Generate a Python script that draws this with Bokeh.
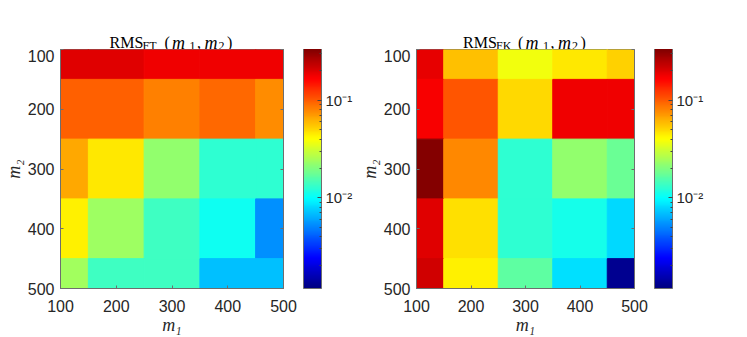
import numpy as np
from bokeh.plotting import figure
from bokeh.models import (Range1d, LinearAxis, FixedTicker, ColorBar, LogColorMapper,
                          Label, CustomJSTickFormatter, ColumnDataSource)
from bokeh.layouts import row, column
from bokeh.embed import file_html
from bokeh.resources import INLINE

# ---------------- data ----------------
m1_values = [100, 200, 300, 400, 500]
m2_values = [100, 200, 300, 400, 500]

# rows: m2 = 100..500 ; columns: m1 = 100..500
rms_ft = [
    [0.198, 0.198, 0.182, 0.182, 0.182],
    [0.098, 0.098, 0.0822, 0.0926, 0.0766],
    [0.0656, 0.046, 0.0218, 0.0128, 0.0128],
    [0.0441, 0.0235, 0.0140, 0.0107, 0.0053],
    [0.0240, 0.0140, 0.0140, 0.0069, 0.0069],
]
rms_fk = [
    [0.19, 0.0577, 0.0372, 0.0455, 0.0526],
    [0.174, 0.1026, 0.0502, 0.182, 0.182],
    [0.33, 0.0785, 0.0128, 0.0218, 0.0178],
    [0.198, 0.0482, 0.0128, 0.0112, 0.0079],
    [0.217, 0.0441, 0.0167, 0.0083, 0.00129],
]
color_low = 10 ** -2.93
color_high = 10 ** -0.47
x_ticks = [100, 200, 300, 400, 500]
y_ticks = [100, 200, 300, 400, 500]
cbar_ticks = [0.01, 0.1]
cbar_minor = [0.002, 0.003, 0.004, 0.005, 0.006, 0.007, 0.008, 0.009,
              0.02, 0.03, 0.04, 0.05, 0.06, 0.07, 0.08, 0.09, 0.2, 0.3]
x_label = "m\u2081"
y_label = "m\u2082"

FRAME_W = 223
FRAME_H = 240
TITLE_H = 49


def jet(n=256):
    out = []
    for i in range(n):
        t = i / (n - 1)
        r = min(max(1.5 - abs(4 * t - 3), 0), 1)
        g = min(max(1.5 - abs(4 * t - 2), 0), 1)
        b = min(max(1.5 - abs(4 * t - 1), 0), 1)
        out.append("#%02x%02x%02x" % (int(round(r * 255)), int(round(g * 255)), int(round(b * 255))))
    return out


JET = jet(256)
SERIF = "Liberation Serif"
SANS = "Liberation Sans"
AX_COL = "#6e6e6e"
TXT_COL = "#262626"

sup_fmt = CustomJSTickFormatter(code="""
const e = Math.round(Math.log10(tick));
const sup = {'-':'\u207b','0':'\u2070','1':'\u00b9','2':'\u00b2','3':'\u00b3'};
return '10' + String(e).split('').map(c => sup[c]).join('');
""")
empty_fmt = CustomJSTickFormatter(code="return '';")


def make_title(sub, width, bl, br, xr):
    t = figure(width=width, height=TITLE_H, output_backend="svg", toolbar_location=None,
               x_range=xr, y_range=Range1d(0, TITLE_H),
               min_border_left=bl, min_border_right=br, min_border_top=0, min_border_bottom=0,
               x_axis_location=None, y_axis_location=None)
    t.grid.visible = False
    t.outline_line_color = None
    t.border_fill_color = "white"
    t.background_fill_color = "white"
    pieces = [("RMS", -62.5, 7, 16, "normal"), (sub, -29.5, 4, 12, "normal"),
              ("(", -7.5, 7, 16, "normal"), ("m", 0.0, 7, 18, "italic"),
              ("1", 17.5, 4, 12, "normal"), (",", 25.0, 7, 16, "normal"),
              ("m", 32.5, 7, 18, "italic"), ("2", 46.5, 4, 12, "normal"),
              (")", 55.0, 7, 16, "normal")]
    for txt, dx, dy, fs, st in pieces:
        t.add_layout(Label(x=300, y=dy, x_offset=dx, text=txt, text_font=SERIF,
                           text_font_size=f"{fs}px", text_font_style=st, text_color="black",
                           text_align="left", text_baseline="alphabetic"))
    return t


def make_panel(values, width, bl, br, xr):
    xs, ys, vs = [], [], []
    for i, m2 in enumerate(m2_values):
        for j, m1 in enumerate(m1_values):
            xs.append(m1)
            ys.append(m2)
            vs.append(values[i][j])
    src = ColumnDataSource(dict(x=xs, y=ys, v=vs))
    mapper = LogColorMapper(palette=JET, low=color_low, high=color_high)

    p = figure(width=width, height=337 - TITLE_H, output_backend="svg", toolbar_location=None,
               x_range=xr, y_range=Range1d(500, 100),
               min_border_left=bl, min_border_right=br,
               min_border_top=0, min_border_bottom=48,
               x_axis_location=None, y_axis_location=None)
    p.grid.visible = False
    p.outline_line_color = AX_COL
    p.background_fill_color = "white"
    p.border_fill_color = "white"

    p.rect(x="x", y="y", width=100, height=100, source=src,
           fill_color={"field": "v", "transform": mapper},
           line_color={"field": "v", "transform": mapper}, line_width=1)

    def style(ax, ticks, labels=True):
        ax.ticker = FixedTicker(ticks=ticks)
        ax.major_tick_in = 3
        ax.major_tick_out = 0
        ax.minor_tick_in = 0
        ax.minor_tick_out = 0
        ax.axis_line_color = AX_COL
        ax.major_tick_line_color = AX_COL
        ax.major_label_text_font = SANS
        ax.major_label_text_font_size = "16px"
        ax.major_label_text_color = TXT_COL
        ax.axis_label_text_font = SERIF
        ax.axis_label_text_font_size = "18px"
        ax.axis_label_text_font_style = "italic"
        ax.axis_label_text_color = TXT_COL
        if not labels:
            ax.formatter = empty_fmt
            ax.major_label_standoff = 0

    xb = LinearAxis(axis_label=x_label); style(xb, x_ticks)
    xb.major_label_standoff = 11
    xb.axis_label_standoff = 0
    yl = LinearAxis(axis_label=y_label); style(yl, y_ticks)
    yl.major_label_standoff = 6
    yl.axis_label_standoff = 1
    yr = LinearAxis(); style(yr, y_ticks, False)
    p.add_layout(xb, "below")
    p.add_layout(yl, "left")
    p.add_layout(yr, "right")

    cb = ColorBar(color_mapper=mapper, width=18, height=FRAME_H, padding=0, margin=0,
                  location=(20, 0), ticker=FixedTicker(ticks=cbar_ticks, minor_ticks=cbar_minor),
                  formatter=sup_fmt, major_tick_in=4, major_tick_out=0,
                  minor_tick_in=2, minor_tick_out=0,
                  major_tick_line_color="#444444", minor_tick_line_color="#444444",
                  bar_line_color=AX_COL, label_standoff=4,
                  major_label_text_font=SANS, major_label_text_font_size="15px",
                  major_label_text_color=TXT_COL, background_fill_color=None)
    p.add_layout(cb, "right")
    return p


W1, BL1 = 356, 60
W2, BL2 = 360, 55
BR1 = W1 - BL1 - FRAME_W
BR2 = W2 - BL2 - FRAME_W
xr1 = Range1d(100, 500)
xr2 = Range1d(100, 500)
col1 = column(make_title("FT", W1, BL1, BR1, xr1), make_panel(rms_ft, W1, BL1, BR1, xr1), spacing=0)
col2 = column(make_title("FK", W2, BL2, BR2, xr2), make_panel(rms_fk, W2, BL2, BR2, xr2), spacing=0)
layout = row(col1, col2, spacing=0)

with open("out.html", "w") as f:
    f.write(file_html(layout, INLINE))
